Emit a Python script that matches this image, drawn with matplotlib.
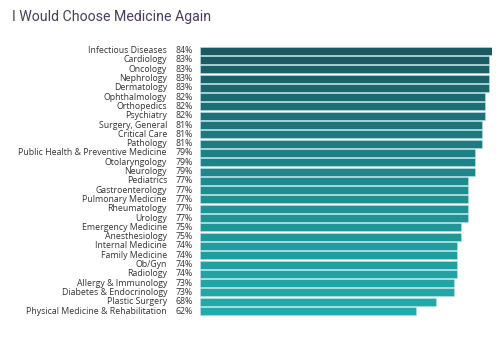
import numpy as np
import matplotlib.pyplot as plt
from matplotlib.colors import LinearSegmentedColormap

# Andel leger som ville valgt medisin igjen, per spesialitet
spesialiteter = [
    "Infectious Diseases", "Cardiology", "Oncology", "Nephrology", "Dermatology",
    "Ophthalmology", "Orthopedics", "Psychiatry", "Surgery, General", "Critical Care",
    "Pathology", "Public Health & Preventive Medicine", "Otolaryngology", "Neurology",
    "Pediatrics", "Gastroenterology", "Pulmonary Medicine", "Rheumatology", "Urology",
    "Emergency Medicine", "Anesthesiology", "Internal Medicine", "Family Medicine",
    "Ob/Gyn", "Radiology", "Allergy & Immunology", "Diabetes & Endocrinology",
    "Plastic Surgery", "Physical Medicine & Rehabilitation",
]
prosent = [84, 83, 83, 83, 83, 82, 82, 82, 81, 81, 81, 79, 79, 79,
           77, 77, 77, 77, 77, 75, 75, 74, 74, 74, 74, 73, 73, 68, 62]

n = len(spesialiteter)
y = np.arange(n)

# Fargeskala fra mørk til lys turkis nedover
cmap = LinearSegmentedColormap.from_list("teal", ["#1a5961", "#1f8a8e", "#22abab"])
farger = [cmap(i / (n - 1)) for i in range(n)]

fig = plt.figure(figsize=(5, 3.4), dpi=100)
fig.patch.set_facecolor("white")

rad = 9.3 / 340
topp = 1 - 46 / 340
ax = fig.add_axes([0.40, topp - n * rad, 0.584, n * rad])

ax.barh(y, prosent, height=0.86, color=farger, edgecolor="#b5e4e8", linewidth=0.4)
ax.set_xlim(0, 84)
ax.set_ylim(n - 0.5, -0.5)
ax.axis("off")

for i in range(n):
    ax.text(-33 / 292 * 84, y[i], spesialiteter[i], ha="right", va="center",
            fontsize=6.3, color="#333333", family="Open Sans")
    ax.text(-16 / 292 * 84, y[i], f"{prosent[i]}%", ha="center", va="center",
            fontsize=6.3, color="#333333", family="Open Sans")

fig.text(12 / 500, 1 - 17 / 340, "I Would Choose Medicine Again", ha="left", va="center",
         fontsize=10.2, color="#4a3f5c", family="Roboto")

plt.savefig("out.png", dpi=100)
